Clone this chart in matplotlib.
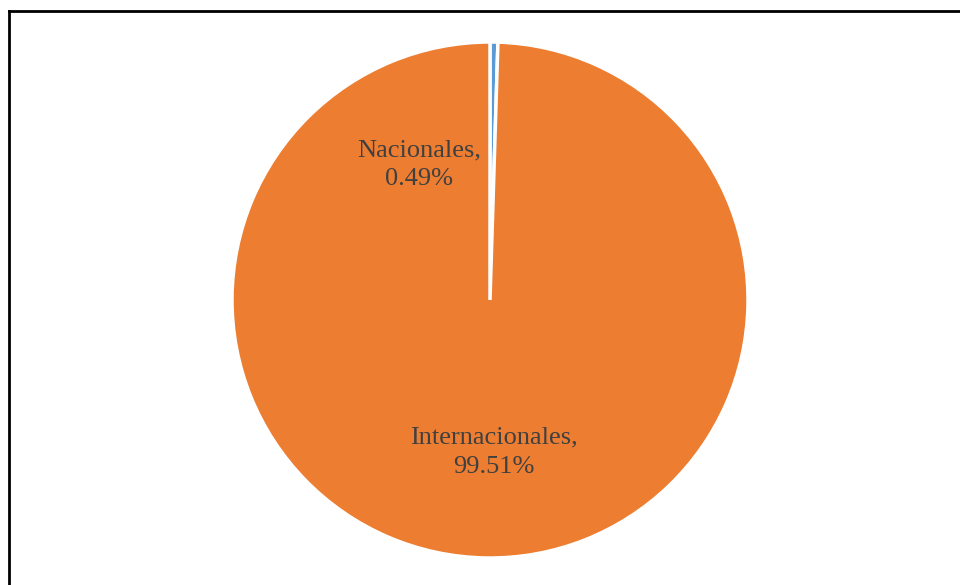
import matplotlib
matplotlib.use("Agg")
import matplotlib.pyplot as plt
from matplotlib.lines import Line2D

categories = ["Nacionales", "Internacionales"]
values = [0.49, 99.51]
colors = ["#5B9BD5", "#ED7D31"]

plt.rcParams['font.family'] = ['Liberation Serif', 'DejaVu Serif']

W, H = 960, 585
fig = plt.figure(figsize=(W / 100, H / 100), dpi=100)

cx, cy, r = 490, 300, 258
ax = fig.add_axes([(cx - r) / W, (H - cy - r) / H, 2 * r / W, 2 * r / H])
wedges, _ = ax.pie(values, colors=colors, startangle=90, counterclock=False,
                   radius=1, wedgeprops=dict(edgecolor="white", linewidth=2.5))
ax.set_xlim(-1, 1)
ax.set_ylim(-1, 1)
ax.set_aspect("equal")
ax.axis("off")

label_pos = [(-0.276, 0.525), (0.016, -0.590)]
for cat, v, (x, y) in zip(categories, values, label_pos):
    ax.text(x, y, f"{cat},\n{v:.2f}%", ha="center", va="center",
            fontsize=19, color="#404040", linespacing=1.4)

# frame (cropped: left and top edges only)
fig.add_artist(Line2D([8.5 / W, 8.5 / W], [0, 1 - 11 / H], transform=fig.transFigure,
                      color="black", linewidth=2))
fig.add_artist(Line2D([8.5 / W, 1], [1 - 11 / H, 1 - 11 / H], transform=fig.transFigure,
                      color="black", linewidth=2))

fig.savefig("out.png", dpi=100, facecolor="white")
